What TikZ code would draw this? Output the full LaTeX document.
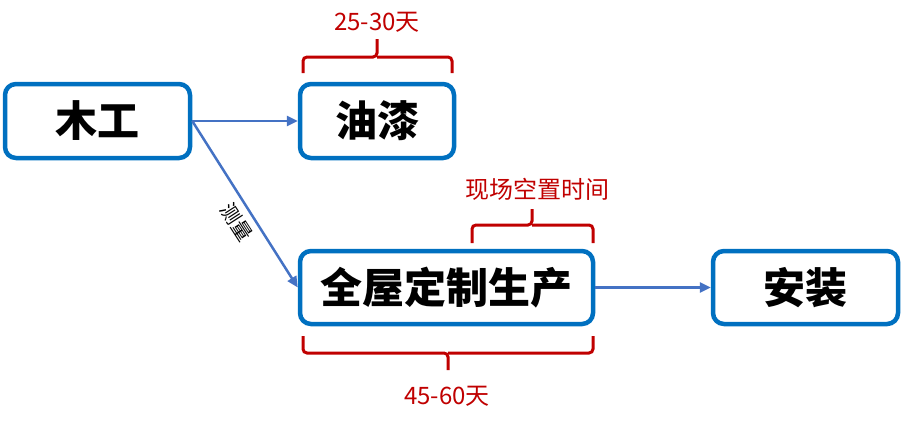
\documentclass[tikz,border=0pt]{standalone}
\usepackage{fontspec}
\setmainfont{Noto Sans CJK SC}
\usetikzlibrary{arrows.meta}
\definecolor{boxblue}{RGB}{0,112,192}
\definecolor{arrowblue}{RGB}{68,114,196}
\definecolor{darkred}{RGB}{192,0,0}
\tikzset{
  stage/.style={draw=boxblue, line width=4.5pt, rounded corners=11pt, fill=white,
    font=\fontsize{42}{48}\selectfont\bfseries, inner sep=0pt},
  flow/.style={draw=arrowblue, line width=2.5pt, -{Triangle[length=11pt,width=10pt]}},
  brace/.style={draw=darkred, line width=3pt, rounded corners=4pt},
  note/.style={text=darkred, font=\fontsize{24}{28}\selectfont, inner sep=0pt}
}
\begin{document}
\begin{tikzpicture}[x=1pt,y=-1pt]
\useasboundingbox (0,0) rectangle (904,426);
% boxes
\node[stage, minimum width=185pt, minimum height=74pt] (mg) at (97.5,121) {木工};
\node[stage, minimum width=154pt, minimum height=74pt] (yq) at (377,121) {油漆};
\node[stage, minimum width=293pt, minimum height=73pt] (qw) at (446.5,287.5) {全屋定制生产};
\node[stage, minimum width=185pt, minimum height=73pt] (az) at (805.5,287.5) {安装};
% connectors
\draw[flow] (mg.east) -- (yq.west);
\draw[flow] (mg.east) -- (qw.west);
\draw[flow] (qw.east) -- (az.west);
\node[font=\fontsize{20}{24}\selectfont, rotate=-57, inner sep=0pt] (cl) at (237,222) {测量};
% brackets
\coordinate (b1l) at (303,73);
\coordinate (b1r) at (452,73);
\coordinate (b1t) at (377,39);
\draw[brace] (b1l) |- (377,57) -- (b1t);
\draw[brace] (b1r) |- (377,57);
\node[note] (t1) at (377,22) {25-30天};

\coordinate (b2l) at (472,243);
\coordinate (b2r) at (593,243);
\coordinate (b2t) at (532,209);
\draw[brace] (b2l) |- (532,225) -- (b2t);
\draw[brace] (b2r) |- (532,225);
\node[note] (t2) at (537,189) {现场空置时间};

\coordinate (b3l) at (303,336);
\coordinate (b3r) at (593,336);
\coordinate (b3t) at (448,370);
\draw[brace] (b3l) |- (448,353) -- (b3t);
\draw[brace] (b3r) |- (448,353);
\node[note] (t3) at (447,396) {45-60天};
\end{tikzpicture}
\end{document}
